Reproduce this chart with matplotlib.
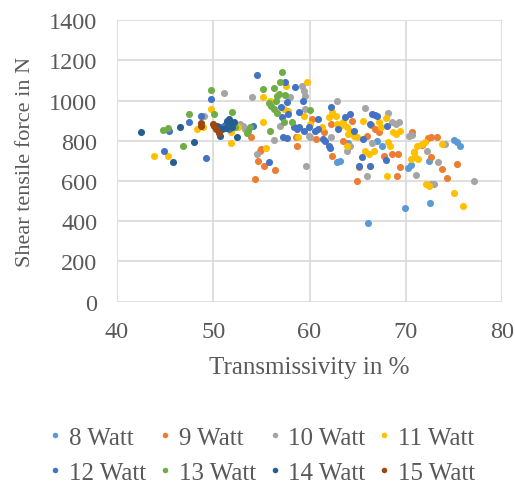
import matplotlib.pyplot as plt
from matplotlib.lines import Line2D

plt.rcParams['font.family'] = ['Liberation Serif', 'DejaVu Serif']

# transmissivity (%) and shear tensile force (N) per laser power
x8 = [62.9, 63.2, 66.1, 67.5, 69.9, 70.2, 70.5, 72.5, 75.0, 75.3, 75.6, 64.0, 67.0, 72.4]
y8 = [696, 700, 391, 776, 468, 665, 677, 492, 806, 792, 776, 790, 800, 700]

x9 = [53.9, 54.6, 54.3, 54.9, 55.3, 56.4, 58.7, 58.6, 60.3, 60.7, 61.5, 62.2, 62.3, 64.4,
      64.9, 65.1, 66.0, 66.4, 67.2, 67.7, 68.6, 69.2, 69.1, 69.4, 70.6, 70.8, 71.7, 72.3,
      72.6, 72.6, 73.2, 73.8, 74.3, 75.3, 55.0, 63.5, 66.8]
y9 = [817, 700, 610, 750, 676, 653, 775, 817, 908, 808, 842, 883, 725, 900,
      601, 668, 825, 878, 842, 725, 734, 734, 626, 668, 845, 745, 780, 812,
      817, 717, 817, 659, 613, 684, 760, 800, 860]

x10 = [49.0, 51.1, 52.8, 53.1, 53.3, 54.0, 54.5, 56.3, 56.9, 58.0, 59.2, 59.4, 59.5, 59.6,
       59.9, 59.5, 62.2, 62.9, 63.9, 64.2, 65.8, 66.0, 66.5, 68.1, 68.6, 69.0, 69.3, 70.3,
       70.6, 71.1, 72.2, 72.6, 72.9, 73.3, 74.1, 77.1, 60.0]
y10 = [925, 1037, 883, 875, 860, 1015, 732, 805, 871, 1015, 1073, 1045, 1024, 676,
       822, 960, 817, 999, 750, 775, 961, 623, 789, 938, 891, 885, 895, 822,
       828, 630, 750, 584, 584, 692, 784, 601, 820]

x11 = [43.8, 45.3, 48.3, 49.8, 48.9, 51.8, 51.8, 52.6, 55.2, 55.2, 55.5, 55.9, 57.6, 57.3,
       57.8, 59.4, 59.7, 58.8, 60.1, 61.3, 62.0, 62.3, 62.7, 62.9, 63.2, 63.5, 63.9, 64.2,
       64.0, 63.9, 64.6, 64.9, 65.6, 65.8, 66.2, 66.3, 66.7, 67.2, 67.4, 67.9, 68.0, 68.1,
       68.4, 68.7, 69.0, 69.4, 70.5, 70.8, 71.0, 71.3, 71.2, 71.7, 72.0, 72.1, 72.4, 73.8,
       75.0, 75.9]
y11 = [722, 722, 858, 958, 870, 842, 789, 866, 1015, 895, 762, 999, 1070, 960,
       950, 924, 1090, 820, 883, 866, 916, 941, 925, 883, 875, 891, 866, 850,
       833, 775, 825, 817, 900, 750, 734, 676, 750, 891, 866, 911, 626, 792,
       775, 842, 833, 850, 709, 745, 720, 709, 775, 785, 792, 584, 576, 784,
       538, 477]

x12 = [44.9, 45.4, 47.5, 48.7, 49.2, 49.8, 50.7, 51.2, 51.6, 54.1, 54.5, 55.8, 57.0, 57.5,
       57.7, 57.1, 57.2, 57.7, 57.8, 58.5, 58.4, 58.7, 58.9, 59.3, 58.9, 59.4, 59.9, 60.6,
       60.9, 60.9, 61.4, 61.6, 62.2, 62.0, 62.1, 63.0, 63.7, 64.2, 64.6, 65.1, 65.6, 66.3,
       66.5, 66.8, 67.0, 66.3, 68.0, 67.9, 65.4]
y12 = [747, 850, 895, 925, 712, 1007, 870, 880, 858, 875, 1127, 696, 966, 1090,
       994, 916, 817, 812, 933, 1065, 866, 858, 866, 999, 941, 850, 866, 850,
       858, 908, 808, 800, 966, 775, 765, 858, 916, 933, 850, 676, 808, 676,
       933, 928, 924, 883, 871, 706, 720]

x13 = [44.8, 45.3, 46.9, 47.5, 49.8, 50.1, 52.0, 52.1, 52.3, 53.6, 53.8, 53.5, 55.2, 55.9,
       55.8, 56.0, 56.3, 56.3, 56.5, 56.6, 56.8, 57.1, 56.9, 57.5, 57.3, 58.2, 60.1, 56.6]
y13 = [853, 865, 775, 933, 1054, 933, 944, 880, 866, 850, 866, 840, 1057, 850,
       990, 975, 1060, 958, 1000, 1020, 1030, 1143, 1090, 1027, 891, 891, 953, 940]

x14 = [42.5, 45.8, 46.6, 48.0, 50.7, 50.4, 51.4, 51.6, 51.8, 52.0, 51.3, 52.5, 50.9, 52.2]
y14 = [842, 692, 866, 792, 825, 875, 900, 910, 890, 870, 865, 817, 860, 895]

x15 = [48.7, 48.7, 50.0, 50.3, 50.6, 50.1]
y15 = [890, 875, 883, 860, 838, 872]

labels = ['8 Watt', '9 Watt', '10 Watt', '11 Watt', '12 Watt', '13 Watt', '14 Watt', '15 Watt']
colors = ['#5B9BD5', '#ED7D31', '#A5A5A5', '#FFC000', '#4472C4', '#70AD47', '#255E91', '#9E480E']
xs = [x8, x9, x10, x11, x12, x13, x14, x15]
ys = [y8, y9, y10, y11, y12, y13, y14, y15]

fig = plt.figure(figsize=(5.15, 4.89), dpi=100)
ax = fig.add_axes([0.227, 0.381, 0.748, 0.576])

for xv, yv, c in zip(xs, ys, colors):
    ax.scatter(xv, yv, s=26, color=c, linewidths=0, zorder=3)

ax.set_xlim(40, 80)
ax.set_ylim(0, 1400)
ax.set_xticks([40, 50, 60, 70, 80])
ax.set_yticks(range(0, 1401, 200))
ax.grid(True, color='#D9D9D9', linewidth=1.2)
ax.set_axisbelow(True)
for s in ax.spines.values():
    s.set_visible(False)
ax.tick_params(length=0, labelsize=17.5, labelcolor='#595959', pad=14)

ax.set_xlabel('Transmissivity in %', fontsize=18, color='#595959', labelpad=10)
ax.set_ylabel('Shear tensile force in N', fontsize=16, color='#595959', labelpad=10)

handles = [Line2D([], [], marker='o', linestyle='', markersize=4, color=c,
                  markeredgewidth=0) for c in colors]
order = [0, 4, 1, 5, 2, 6, 3, 7]
fig.legend([handles[i] for i in order], [labels[i] for i in order],
           loc='center', bbox_to_anchor=(0.51, 0.067), ncol=4, frameon=False,
           fontsize=18, labelcolor='#595959', handlelength=0.4, handletextpad=0.35,
           columnspacing=0.55, labelspacing=0.5)

fig.savefig('out.png', dpi=100)
